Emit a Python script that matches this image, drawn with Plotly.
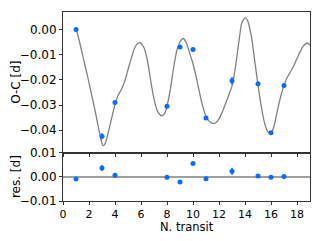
import plotly.graph_objects as go

# --- data ---
transit = [1, 3, 4, 8, 9, 10, 11, 13, 15, 16, 17]
oc = [0.0000, -0.0424, -0.0290, -0.0305, -0.0070, -0.0080, -0.0351, -0.0204, -0.0215, -0.0410, -0.0222]
oc_err = [0.0004, 0.0012, 0.0005, 0.0004, 0.0004, 0.0004, 0.0004, 0.0015, 0.0004, 0.0004, 0.0004]
res = [-0.0008, 0.0037, 0.0007, -0.0001, -0.0021, 0.0056, -0.0007, 0.0024, 0.0004, -0.0001, 0.0002]

model_x = [1.0, 1.25, 1.5, 1.75, 2.0, 2.25, 2.5, 2.75, 3.0, 3.1, 3.25, 3.5, 3.75, 4.0,
           4.25, 4.5, 4.75, 5.0, 5.25, 5.5, 5.75, 5.95, 6.25, 6.5, 6.75, 7.0, 7.25,
           7.5, 7.65, 7.85, 8.0, 8.25, 8.5, 8.75, 9.0, 9.25, 9.5, 9.75, 10.0, 10.25,
           10.5, 10.75, 11.0, 11.25, 11.55, 11.75, 12.0, 12.25, 12.5, 12.75, 13.0,
           13.25, 13.5, 13.75, 14.0, 14.2, 14.5, 14.75, 15.0, 15.25, 15.5, 15.75,
           16.0, 16.25, 16.5, 16.75, 17.0, 17.25, 17.5, 17.75, 18.0, 18.25, 18.5,
           18.8, 19.0]
model_y = [0.0005, -0.0045, -0.0100, -0.0155, -0.0212, -0.0270, -0.0330, -0.0395,
           -0.0452, -0.0461, -0.0452, -0.0405, -0.0350, -0.0297, -0.0260, -0.0237,
           -0.0205, -0.0160, -0.0115, -0.0075, -0.0056, -0.0053, -0.0075, -0.0125,
           -0.0205, -0.0275, -0.0322, -0.0340, -0.0342, -0.0330, -0.0304, -0.0240,
           -0.0155, -0.0085, -0.0049, -0.0036, -0.0055, -0.0095, -0.0136, -0.0190,
           -0.0250, -0.0305, -0.0344, -0.0364, -0.0373, -0.0370, -0.0355, -0.0328,
           -0.0295, -0.0260, -0.0225, -0.0155, -0.0060, 0.0025, 0.0046, 0.0035,
           -0.0030, -0.0125, -0.0220, -0.0305, -0.0370, -0.0405, -0.0412, -0.0380,
           -0.0320, -0.0265, -0.0222, -0.0190, -0.0168, -0.0145, -0.0115, -0.0088,
           -0.0065, -0.0054, -0.0062]

oc_ticks = [0.00, -0.01, -0.02, -0.03, -0.04]
res_ticks = [-0.01, 0.00, 0.01]
x_ticks = [0, 2, 4, 6, 8, 10, 12, 14, 16, 18]

blue = "#0a6cff"
gray = "#808080"
font = "DejaVu Sans"

fig = go.Figure()
fig.add_trace(go.Scatter(x=model_x, y=model_y, mode="lines", line=dict(color=gray, width=1.3, shape="spline", smoothing=0.6),
                         xaxis="x", yaxis="y", showlegend=False, hoverinfo="skip"))
fig.add_trace(go.Scatter(x=transit, y=oc, mode="markers", marker=dict(color=blue, size=5),
                         error_y=dict(type="data", array=oc_err, color=blue, thickness=1.5, width=0),
                         xaxis="x", yaxis="y", showlegend=False))
fig.add_trace(go.Scatter(x=transit, y=res, mode="markers", marker=dict(color=blue, size=5),
                         error_y=dict(type="data", array=oc_err, color=blue, thickness=1.5, width=0),
                         xaxis="x2", yaxis="y2", showlegend=False))

axis_common = dict(showline=True, linecolor="#333333", linewidth=1, mirror=True, showgrid=False,
                   zeroline=False, ticks="outside", ticklen=3, tickcolor="#333333", automargin=False)
yfont = dict(family=font, size=12, color="black")
xfont = dict(family=font, size=11, color="black")

# the page body adds an 8px margin, so the figure is sized to fit inside it
fig.update_layout(
    template="none",
    width=306, height=225,
    margin=dict(l=55, r=4, t=4, b=32, pad=0),
    paper_bgcolor="white", plot_bgcolor="white",
    font=dict(family=font, size=12, color="black"),
    xaxis=dict(domain=[0, 1], range=[0, 19], tickvals=x_ticks, showticklabels=False, anchor="y",
               tickfont=xfont, **axis_common),
    yaxis=dict(domain=[0.254, 1], range=[-0.049, 0.0069], tickvals=oc_ticks, tickformat=".2f",
               anchor="x", tickfont=yfont, **axis_common),
    xaxis2=dict(domain=[0, 1], range=[0, 19], tickvals=x_ticks, anchor="y2", tickfont=xfont, **axis_common),
    yaxis2=dict(domain=[0, 0.254], range=[-0.01, 0.01], tickvals=res_ticks, tickformat=".2f",
                anchor="x2", tickfont=yfont, **axis_common),
)
title_font = dict(family=font, size=12, color="black")
fig.add_annotation(text="N. transit", xref="paper", yref="paper", x=0.5, y=-0.140,
                   xanchor="center", yanchor="middle", showarrow=False,
                   font=dict(family=font, size=11.5, color="black"))
fig.add_annotation(text="O-C [d]", xref="paper", yref="paper", x=-0.190, y=0.626, textangle=-90,
                   xanchor="center", yanchor="middle", showarrow=False, font=title_font)
fig.add_annotation(text="res. [d]", xref="paper", yref="paper", x=-0.190, y=0.127, textangle=-90,
                   xanchor="center", yanchor="middle", showarrow=False, font=title_font)
fig.add_shape(type="line", xref="x2 domain", yref="y2", x0=0, x1=1, y0=0, y1=0,
              line=dict(color=gray, width=1.5), layer="below")

fig.write_html("out.html")
